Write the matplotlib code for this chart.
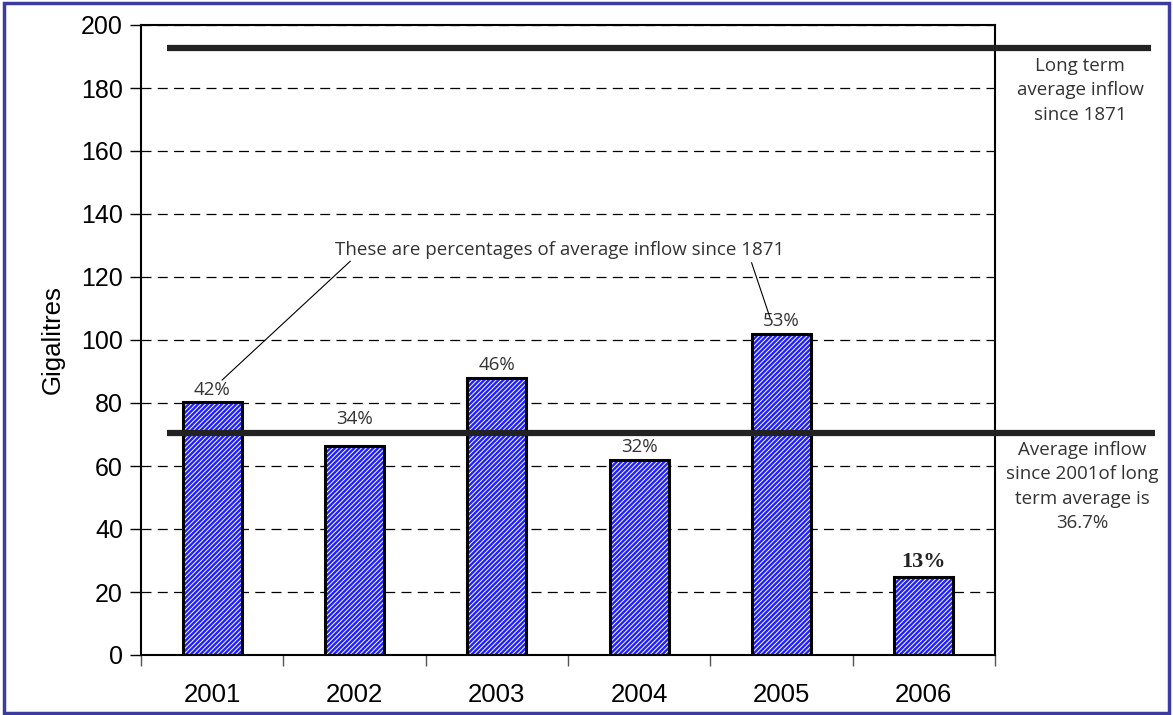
import matplotlib.pyplot as plt
import matplotlib.transforms as mtransforms
from matplotlib.patches import Rectangle

years = ['2001', '2002', '2003', '2004', '2005', '2006']
inflow = [80.2, 66.2, 88.0, 62.0, 102.0, 24.7]
pct_labels = ['42%', '34%', '46%', '32%', '53%', '13%']
long_term_avg = 192.6
recent_avg = 70.6  # 36.7% of the long term average

note_font = ['Open Sans', 'DejaVu Sans']
note_col = '#333333'
note_size = 13.5

plt.rcParams['font.family'] = ['Liberation Sans', 'DejaVu Sans']
plt.rcParams['hatch.linewidth'] = 0.7

fig = plt.figure(figsize=(11.73, 7.15), dpi=100)
ax = fig.add_axes([141 / 1173, 1 - 655 / 715, 854 / 1173, 630 / 715])

x = [i + 0.5 for i in range(len(years))]
w = 0.415

# hatched fill first, black outline on top
ax.bar(x, inflow, w, color='#2020ff', edgecolor='white', hatch='///////', linewidth=0, zorder=2)
ax.bar(x, inflow, w, facecolor='none', edgecolor='black', linewidth=2.2, zorder=3)

for xi, v, lab in zip(x, inflow, pct_labels):
    if lab == '13%':
        ax.text(xi, v + 1.5, lab, ha='center', va='bottom', fontsize=16, fontweight='bold',
                family=['Liberation Serif', 'DejaVu Serif'], color='#222222')
    else:
        y = v + 1.2
        # a label that would sit on the recent-average line goes just above it
        if y < recent_avg < y + 5.5:
            y = recent_avg + 1.5
        ax.text(xi, y, lab, ha='center', va='bottom', fontsize=note_size,
                family=note_font, color=note_col)

# the two reference lines run past the right edge of the axes
tr = mtransforms.blended_transform_factory(ax.transAxes, ax.transData)
ax.plot([0.03, 1.183], [long_term_avg, long_term_avg], color='#222222', lw=4.5,
        transform=tr, clip_on=False, zorder=4, solid_capstyle='butt')
ax.plot([0.03, 1.187], [recent_avg, recent_avg], color='#222222', lw=4.5,
        transform=tr, clip_on=False, zorder=4, solid_capstyle='butt')

fig.text(1080 / 1173, 1 - 57 / 715, 'Long term\naverage inflow\nsince 1871', ha='center', va='top',
         fontsize=note_size, family=note_font, color=note_col, linespacing=1.45)
fig.text(1082 / 1173, 1 - 441 / 715, 'Average inflow\nsince 2001of long\nterm average is\n36.7%',
         ha='center', va='top', fontsize=note_size, family=note_font, color=note_col, linespacing=1.45)

ax.text(2.94, 128.5, 'These are percentages of average inflow since 1871', ha='center', va='center',
        fontsize=note_size, family=note_font, color=note_col)
ax.plot([1.47, 0.57], [125, 87.3], color='black', lw=0.8, zorder=4)
ax.plot([4.29, 4.42], [124.5, 107], color='black', lw=0.8, zorder=4)

ax.set_xlim(0, 6)
ax.set_ylim(0, 200)
ax.set_yticks(range(0, 201, 20))
ax.set_xticks(range(7))
ax.set_xticklabels([])
ax.set_xticks(x, minor=True)
ax.set_xticklabels(years, minor=True)
ax.tick_params(axis='x', which='major', direction='out', length=8, width=1, color='#555555')
ax.tick_params(axis='x', which='minor', length=0, pad=20, labelsize=18.5)
ax.tick_params(axis='y', direction='out', length=8, width=1, labelsize=18, pad=5)
ax.set_ylabel('Gigalitres', fontsize=18.5, labelpad=12)

ax.yaxis.grid(True, color='black', linestyle=(0, (8, 5)), lw=0.9)
ax.set_axisbelow(True)
for s in ax.spines.values():
    s.set_linewidth(1.5)

fig.patches.append(Rectangle((4 / 1173, 2 / 715), 1165 / 1173, 710 / 715, transform=fig.transFigure,
                             fill=False, edgecolor='#3c3ca0', lw=2.5))

fig.savefig('out.png', dpi=100)
